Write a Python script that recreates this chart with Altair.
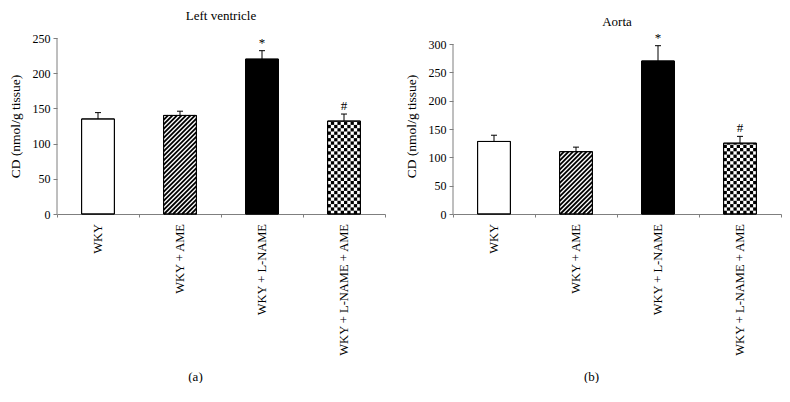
import altair as alt
import pandas as pd

categories = ["WKY", "WKY + AME", "WKY + L-NAME", "WKY + L-NAME + AME"]
lv_mean = [135, 140, 220, 132]
lv_sem = [9, 6, 12, 10]
ao_mean = [128, 110, 270, 125]
ao_sem = [11, 8, 27, 12]
lv_marks = ["", "", "*", "#"]
ao_marks = ["", "", "*", "#"]
lv_ticks = [0, 50, 100, 150, 200, 250]
ao_ticks = [0, 50, 100, 150, 200, 250, 300]
bar_styles = ["plain", "hatch", "solid", "checker"]

FONT = "Liberation Serif"
PLOT_W = 328
PLOT_H = 176
BAR_HALF = 0.2
CAP_PX = 3.0
AXIS_GRAY = "#7f7f7f"
Y_TITLE = "CD (nmol/g tissue)"


def panel(mean, sem, marks, ticks, title, letter, axis_px, title_offset):
    n = len(categories)
    ymax = ticks[-1] * PLOT_H / axis_px
    kx = PLOT_W / n
    ky = PLOT_H / ymax
    xs = alt.Scale(domain=[0, n], nice=False, zero=False)
    ys = alt.Scale(domain=[0, ymax], nice=False)

    rows = []
    for i, (cat, m, s, mk, st) in enumerate(zip(categories, mean, sem, marks, bar_styles)):
        rows.append(dict(i=i, cat=cat, x0=i + 0.5 - BAR_HALF, x1=i + 0.5 + BAR_HALF, xc=i + 0.5,
                         cl=i + 0.5 - CAP_PX / kx, cr=i + 0.5 + CAP_PX / kx,
                         mean=m, zero=0, top=m + s, mark=mk,
                         fill="black" if st == "solid" else "white"))
    df = pd.DataFrame(rows)

    # hatch and checker decorations derived from bar values
    hatch, checker = [], []
    for r in rows:
        st = bar_styles[r["i"]]
        x0p, x1p, H = r["x0"] * kx, r["x1"] * kx, r["mean"] * ky
        if st == "hatch":
            period = 4.5
            c = x0p - H
            while c < x1p:
                ya = max(0.0, x0p - c)
                yb = min(H, x1p - c)
                if yb > ya:
                    hatch.append(dict(x=(c + ya) / kx, x2=(c + yb) / kx, y=ya / ky, y2=yb / ky))
                c += period
        if st == "checker":
            ncol = 10
            cw = (x1p - x0p) / ncol
            ch = 3.3
            rr = 0
            while rr * ch < H:
                ya = rr * ch
                yb = min(H, (rr + 1) * ch)
                for cc in range(ncol):
                    if (rr + cc) % 2 == 0:
                        checker.append(dict(x=(x0p + cc * cw) / kx, x2=(x0p + (cc + 1) * cw) / kx,
                                            y=ya / ky, y2=yb / ky))
                rr += 1

    x_axis = alt.Axis(values=list(range(n + 1)), labels=False, tickSize=3,
                      domainColor=AXIS_GRAY, tickColor=AXIS_GRAY, grid=False,
                      title=letter, titleFont=FONT, titleFontSize=13,
                      titleFontWeight="normal", titleColor="black", titleX=138, titleY=162,
                      titleBaseline="middle", titleAlign="center")
    y_axis = alt.Axis(values=ticks, domain=False, tickSize=4, labelPadding=3,
                      labelFontSize=12, labelFont=FONT, labelColor="black",
                      tickColor=AXIS_GRAY, grid=False, title=Y_TITLE,
                      titleFont=FONT, titleFontSize=13.5, titleFontWeight="normal",
                      titleColor="black", titlePadding=10)

    def X(field):
        return alt.X(field, type="quantitative", scale=xs, axis=x_axis, title=letter)

    def Y(field):
        return alt.Y(field, type="quantitative", scale=ys, axis=y_axis, title=Y_TITLE)

    base = alt.Chart(df)
    bars = base.mark_rect(stroke="black", strokeWidth=1).encode(
        x=X("x0"), x2="x1", y=Y("mean"), y2="zero",
        fill=alt.Fill("fill:N", scale=None),
    )
    layers = [bars]
    if hatch:
        layers.append(alt.Chart(pd.DataFrame(hatch)).mark_rule(color="black", strokeWidth=1.8).encode(
            x=X("x"), x2="x2", y=Y("y"), y2="y2"))
    if checker:
        layers.append(alt.Chart(pd.DataFrame(checker)).mark_rect(color="black").encode(
            x=X("x"), x2="x2", y=Y("y"), y2="y2"))
    outline = base.mark_rect(filled=False, stroke="black", strokeWidth=1).encode(
        x=X("x0"), x2="x1", y=Y("mean"), y2="zero")
    err = base.mark_rule(color="black", strokeWidth=1).encode(
        x=X("xc"), y=Y("mean"), y2="top")
    caps = base.mark_rule(color="black", strokeWidth=1).encode(
        x=X("cl"), x2="cr", y=Y("top"))
    ann_df = df[df["mark"] != ""]
    ann = alt.Chart(ann_df).mark_text(baseline="bottom", dy=-1, font=FONT, fontSize=13,
                                      fill="black").encode(
        x=X("xc"), y=Y("top"), text="mark:N")
    cat_labels = base.mark_text(angle=270, align="right", baseline="middle", dx=-10,
                                font=FONT, fontSize=12.5, fill="black").encode(
        x=X("xc"), y=Y("zero"), text="cat:N")
    yline = alt.Chart(pd.DataFrame({"x": [0], "y": [0], "y2": [ticks[-1]]})).mark_rule(
        color=AXIS_GRAY, strokeWidth=1).encode(
        x=X("x"), y=Y("y"), y2="y2")
    layers += [outline, err, caps, ann, cat_labels, yline]

    return alt.layer(*layers).properties(
        width=PLOT_W, height=PLOT_H,
        title=alt.TitleParams(title, font=FONT, fontSize=13, fontWeight="normal", color="black",
                              frame="group", anchor="middle", baseline="bottom",
                              offset=title_offset),
    )


left = panel(lv_mean, lv_sem, lv_marks, lv_ticks, "Left ventricle", "(a)", 176, -4)
right = panel(ao_mean, ao_sem, ao_marks, ao_ticks, "Aorta", "(b)", 170, -10)

chart = alt.hconcat(left, right, spacing=68, bounds="flush").properties(
    padding={"left": 0, "top": 2, "right": 0, "bottom": 0}).configure(
    font=FONT, background="white").configure_view(strokeWidth=0, stroke=None)

chart.save("out.html", embed_options={"renderer": "svg", "actions": False})
